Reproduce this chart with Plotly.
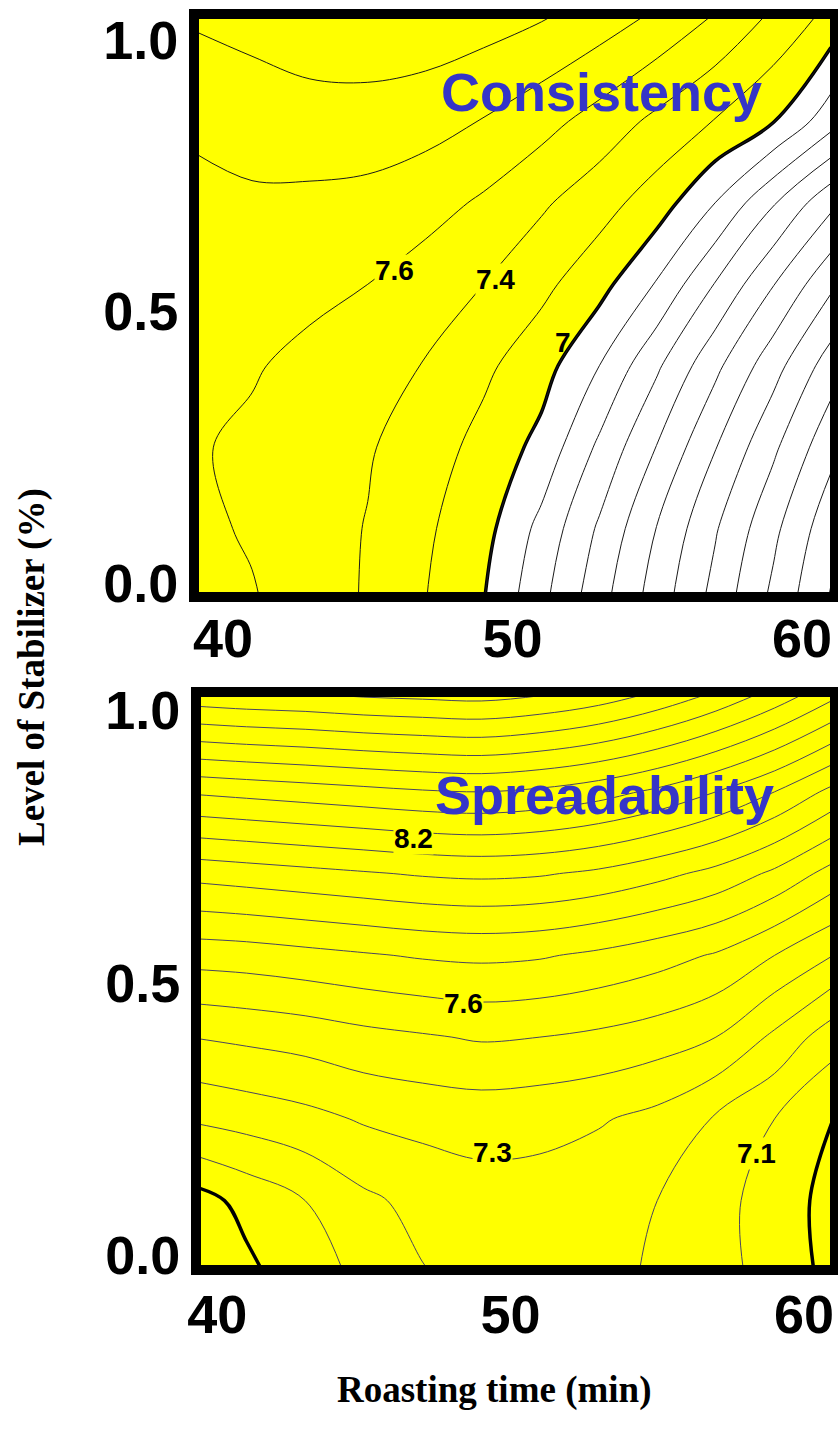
import plotly.graph_objects as go

# ---------------- data ----------------
time_min = [39, 41, 43, 45, 47, 49, 51, 53, 55, 57, 59, 61]
stabilizer = [-0.05, 0.1, 0.25, 0.4, 0.55, 0.7, 0.85, 1.05]

consistency = [
    [7.66, 7.62, 7.50, 7.38, 7.20, 7.00, 6.64, 6.26, 5.89, 5.52, 5.14, 4.77],
    [7.64, 7.58, 7.49, 7.39, 7.23, 7.07, 6.74, 6.37, 5.99, 5.62, 5.25, 4.87],
    [7.62, 7.56, 7.49, 7.42, 7.29, 7.14, 6.94, 6.56, 6.19, 5.81, 5.44, 5.06],
    [7.64, 7.62, 7.54, 7.47, 7.39, 7.24, 7.08, 6.80, 6.43, 6.05, 5.68, 5.30],
    [7.67, 7.69, 7.66, 7.60, 7.50, 7.40, 7.25, 7.07, 6.78, 6.39, 6.01, 5.64],
    [7.72, 7.77, 7.76, 7.74, 7.68, 7.57, 7.43, 7.28, 7.10, 6.80, 6.42, 6.05],
    [7.85, 7.88, 7.91, 7.91, 7.87, 7.79, 7.67, 7.52, 7.35, 7.19, 7.01, 6.68],
    [8.03, 8.08, 8.14, 8.16, 8.15, 8.10, 8.03, 7.92, 7.78, 7.60, 7.38, 7.15],
]

spreadability = [
    [6.88, 6.97, 7.05, 7.12, 7.19, 7.23, 7.24, 7.22, 7.19, 7.13, 7.07, 6.97],
    [6.95, 7.03, 7.10, 7.18, 7.23, 7.26, 7.26, 7.23, 7.20, 7.13, 7.06, 6.96],
    [7.21, 7.24, 7.27, 7.31, 7.33, 7.34, 7.33, 7.31, 7.27, 7.19, 7.10, 7.00],
    [7.40, 7.42, 7.44, 7.47, 7.49, 7.51, 7.50, 7.48, 7.45, 7.40, 7.28, 7.14],
    [7.64, 7.65, 7.67, 7.69, 7.71, 7.72, 7.71, 7.68, 7.64, 7.59, 7.50, 7.40],
    [7.93, 7.95, 7.97, 7.99, 8.01, 8.02, 8.01, 7.98, 7.93, 7.87, 7.78, 7.66],
    [8.31, 8.33, 8.35, 8.37, 8.39, 8.40, 8.38, 8.34, 8.28, 8.20, 8.10, 7.97],
    [8.93, 8.95, 8.96, 8.98, 8.99, 9.00, 8.97, 8.92, 8.84, 8.74, 8.62, 8.48],
]

cons_label_text = ["7.6", "7.4", "7"]
cons_label_x = [45.94, 49.4, 51.75]
cons_label_y = [0.576, 0.558, 0.442]
cons_label_bg = ["#FFFF00", "#FFFF00", "rgba(0,0,0,0)"]

spr_label_text = ["8.2", "7.6", "7.3", "7.1"]
spr_label_x = [46.68, 48.38, 49.37, 58.4]
spr_label_y = [0.765, 0.462, 0.189, 0.187]

x_tickvals = [40, 50, 60]
x_ticktext = ["40", "50", "60"]
y_tickvals = [0.0, 0.5, 1.0]
y_ticktext = ["0.0", "0.5", "1.0"]

YELLOW = "#FFFF00"
tickfont = dict(family="Liberation Sans, Arial, sans-serif", size=54, color="black", weight="bold")

fig = go.Figure()

# ---- top panel: consistency (yellow where value >= 7) ----
fig.add_trace(go.Contour(
    x=time_min, y=stabilizer, z=consistency, xaxis="x", yaxis="y",
    contours=dict(type="constraint", operation="<", value=7.0),
    fillcolor=YELLOW, line=dict(color="black", width=3.5, smoothing=1),
    showscale=False, hoverinfo="skip"))
fig.add_trace(go.Contour(
    x=time_min, y=stabilizer, z=consistency, xaxis="x", yaxis="y",
    contours=dict(coloring="none", start=4.0, end=8.4, size=0.2),
    line=dict(color="#1a1a1a", width=1, smoothing=1),
    showscale=False, hoverinfo="skip"))

# ---- bottom panel: spreadability ----
fig.add_trace(go.Heatmap(
    x=time_min, y=stabilizer, z=spreadability, xaxis="x2", yaxis="y2",
    colorscale=[[0, YELLOW], [1, YELLOW]], showscale=False, hoverinfo="skip"))
fig.add_trace(go.Contour(
    x=time_min, y=stabilizer, z=spreadability, xaxis="x2", yaxis="y2",
    contours=dict(coloring="none", start=6.5, end=9.2, size=0.1),
    line=dict(color="#4a4560", width=1, smoothing=1),
    showscale=False, hoverinfo="skip"))
fig.add_trace(go.Contour(
    x=time_min, y=stabilizer, z=spreadability, xaxis="x2", yaxis="y2",
    contours=dict(coloring="none", start=7.0, end=7.0, size=1),
    line=dict(color="black", width=3.5, smoothing=1),
    showscale=False, hoverinfo="skip"))

axis_common = dict(showline=True, linewidth=10, linecolor="black", mirror=True,
                   showgrid=False, zeroline=False, ticks="", tickfont=tickfont,
                   automargin=False)

fig.update_layout(
    width=838, height=1435, margin=dict(l=0, r=0, t=0, b=0, pad=0),
    paper_bgcolor="white", plot_bgcolor="white", showlegend=False,
    xaxis=dict(domain=[0.2375, 0.9905], anchor="y", range=[39.17, 60.97],
               tickvals=x_tickvals, ticktext=x_ticktext, ticklabelstandoff=-10, **axis_common),
    yaxis=dict(domain=[0.5875, 0.9868], anchor="x", range=[-0.0166, 1.0387],
               tickvals=y_tickvals, ticktext=y_ticktext, **axis_common),
    xaxis2=dict(domain=[0.2399, 0.9905], anchor="y2", range=[39.45, 60.89],
                tickvals=x_tickvals, ticktext=x_ticktext, ticklabelstandoff=-7, **axis_common),
    yaxis2=dict(domain=[0.1185, 0.5143], anchor="x2", range=[-0.018, 1.024],
                tickvals=y_tickvals, ticktext=y_ticktext, **axis_common),
)

labfont = dict(family="Liberation Sans, Arial, sans-serif", size=28, color="black", weight="bold")
annotations = []
for t, x, y, bg in zip(cons_label_text, cons_label_x, cons_label_y, cons_label_bg):
    annotations.append(dict(x=x, y=y, xref="x", yref="y", text=t, showarrow=False,
                            xanchor="center", yanchor="middle",
                            font=labfont, bgcolor=bg, borderpad=0))
for t, x, y in zip(spr_label_text, spr_label_x, spr_label_y):
    annotations.append(dict(x=x, y=y, xref="x2", yref="y2", text=t, showarrow=False,
                            xanchor="center", yanchor="middle",
                            font=labfont, bgcolor=YELLOW, borderpad=0))

titlefont = dict(family="Liberation Sans, Arial, sans-serif", size=54, color="#3535C8", weight="bold")
annotations.append(dict(x=601 / 838, y=1 - 92 / 1435, xref="paper", yref="paper",
                        xanchor="center", yanchor="middle",
                        text="Consistency", showarrow=False, font=titlefont))
annotations.append(dict(x=604 / 838, y=1 - 795 / 1435, xref="paper", yref="paper",
                        xanchor="center", yanchor="middle",
                        text="Spreadability", showarrow=False, font=titlefont))

serif = dict(family="Liberation Serif, Times New Roman, serif", size=37, color="black", weight="bold")
annotations.append(dict(x=32 / 838, y=1 - 667 / 1435, xref="paper", yref="paper",
                        xanchor="center", yanchor="middle",
                        text="Level of Stabilizer (%)", textangle=-90, showarrow=False, font=serif))
annotations.append(dict(x=494 / 838, y=1 - 1390 / 1435, xref="paper", yref="paper",
                        xanchor="center", yanchor="middle",
                        text="Roasting time (min)", showarrow=False, font=serif))

fig.update_layout(annotations=annotations)
fig.write_html("out.html")
